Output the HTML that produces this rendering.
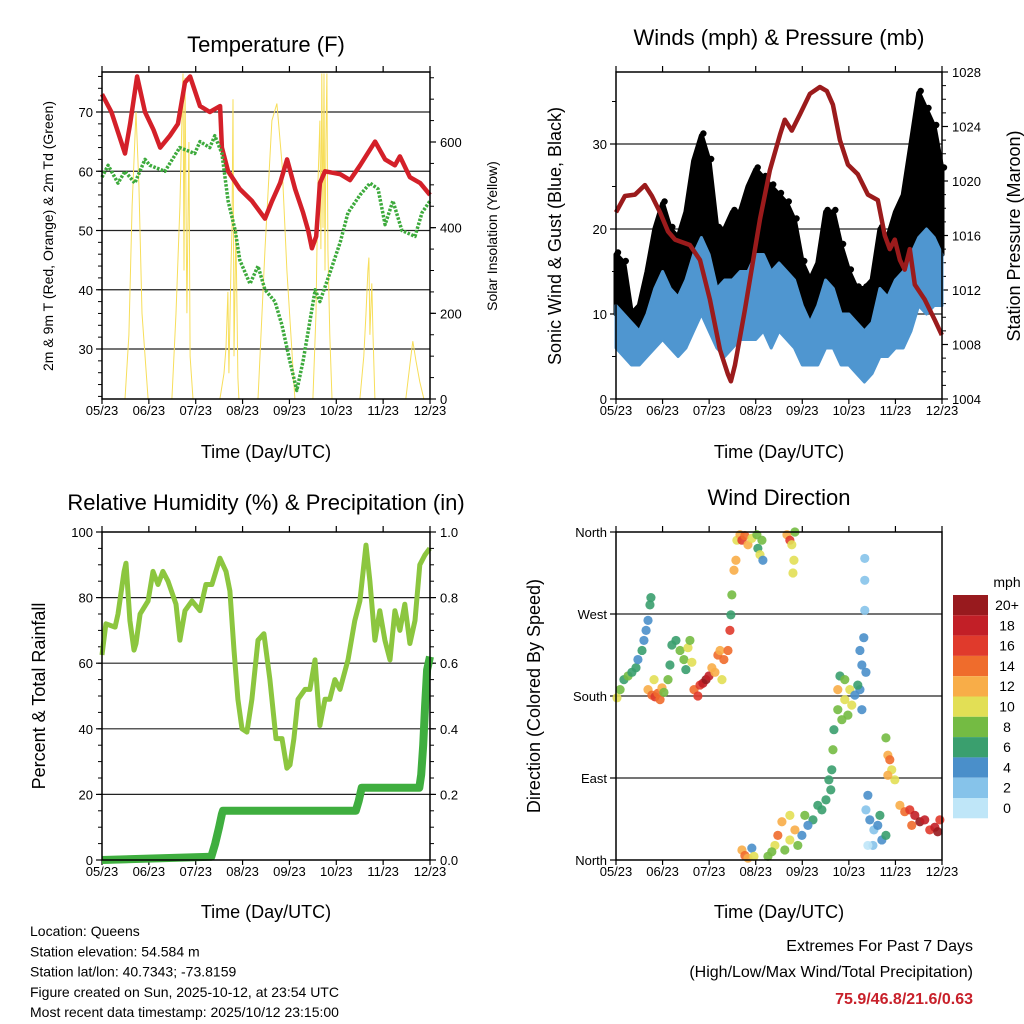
<!DOCTYPE html>
<html><head><meta charset="utf-8"><style>
body{margin:0;background:#fff}
svg{display:block;font-family:"Liberation Sans",Arial,sans-serif}
</style></head><body>
<svg id="chart" width="1024" height="1024" viewBox="0 0 1024 1024" xmlns="http://www.w3.org/2000/svg"></svg>
<script>
// ---------- DATA (time in hours over 7 days) ----------
const monthLabels = ["05/23","06/23","07/23","08/23","09/23","10/23","11/23","12/23"];
// Temperature panel
const tempHours = [0,4.8,11.8,14.4,18,22,26.4,29.8,34.8,38.9,42.5,45.1,50.2,55.2,60.5,61.4,64.6,70.6,76.8,83.5,87.1,91.2,94.8,98.9,103,105.6,107.5,109.7,111.6,114.2,122,127,132.2,139.9,145,150,152.6,157.7,163,168];
const tempValues = [73,70,63,68,76,70,67,64,66,68,75,76,71,70,71,64,60,57,55,52,55,58,62,57,53,50,47,49,58,60,59.5,58.5,61,65,62,61,62.5,59,58,56];
const dewHours = [0,3.1,8.2,11.8,16.8,22,24.5,32.2,39.8,47.5,50.2,55.2,57.8,61.4,64.6,68.2,70.6,75.8,79.9,83.5,88.6,92.2,96.2,99.8,103,105.6,109.2,111.6,116.9,122,126,132.2,137.3,141.4,145,149,153.6,160.3,163.9,168];
const dewValues = [59,61,58,60,58,62,61,60,64,63,65,64,66,63,55,50,45,41,44,40,38,34,28,23,28,33,40,38,43,48,53,56,58,57,51,55,50,49,53,55];
const solarHours = [0,11.8,13.8,15.4,17.4,18.9,20.5,23.6,35.8,37.9,39.9,41.5,42,42.5,43.5,44.5,45.1,46.6,60.4,62.5,63.5,64.5,65,66,66.6,67.1,67.6,68.6,69.6,70.1,79.9,83.5,87,89.6,92.2,94.7,98.8,108,109.6,110.6,111.6,112.1,112.6,113.2,113.7,114.2,114.7,115.2,115.7,116.7,117.8,132.1,134.1,135.2,136.2,136.7,137.2,138.2,138.8,139.8,155.6,157.7,159.2,160.8,162.8,164.9,168];
const solarValues = [0,0,150,450,670,500,200,0,0,200,450,760,300,750,200,600,100,0,0,60,120,250,60,300,400,700,100,400,50,0,0,350,650,690,550,300,0,0,200,500,650,350,760,400,760,300,600,760,350,150,0,0,100,200,300,330,150,270,150,0,0,80,135,90,40,0,0];
// Winds panel (4-hour bins)
const windBinHours = [0,4,8,12,16,20,24,28,32,36,40,44,48,52,56,60,64,68,72,76,80,84,88,92,96,100,104,108,112,116,120,124,128,132,136,140,144,148,152,156,160,164,168];
const gustLow =  [10,9,7,7,8,10,12,11,10,12,15,17,15,10,10,11,13,12,13,15,12,14,12,12,8,7,8,12,11,8,8,6,4,6,9,8,10,10,15,20,18,18,17];
const gustHigh = [17,16,10,11,15,20,23,20,19,22,28,31,28,20,20,22,22,25,27,26,25,24,23,21,16,14,16,22,22,18,15,13,13,14,20,19,22,24,30,36,34,32,27];
const windLow =  [6,5,4,4,5,6,7,6,5,6,8,10,8,6,5,6,7,7,7,8,6,8,7,6,4,4,4,6,6,4,4,3,2,3,5,5,6,6,8,11,10,11,11];
const windHigh = [11,10,9,8,10,13,15,13,12,14,17,19,17,13,14,14,15,15,17,17,15,16,15,14,11,9,11,14,13,10,10,9,8,9,13,12,14,15,17,19,20,19,17];
const pressHours = [0,4.6,9.8,14.9,18.5,22.7,26.8,30.4,38.1,43.3,48.4,53.6,57.7,59.2,61.3,66.4,74.2,79.3,84.5,87,90.6,94.8,99.9,105.1,108.7,111.8,115.4,119.5,124.6,129.8,134.9,138.5,141.1,143.7,146.3,148.8,151.4,154,159.1,164.3,167.9];
const pressValues = [1017.7,1018.9,1019,1019.7,1018.9,1017.7,1016.3,1015.7,1015.3,1014.2,1011.3,1007.6,1005.8,1005.3,1006.5,1010.5,1017.2,1020.8,1023.4,1024.5,1023.7,1024.9,1026.4,1026.9,1026.6,1025.6,1023,1021.2,1020.5,1019,1018.6,1016,1015,1015.7,1014.2,1013.5,1015,1012.4,1011.3,1009.8,1008.7];
// RH / precip panel
const rhHours = [0,2,6.7,8.2,11.3,12.3,14.3,16.4,17.4,19.5,23.6,26.1,28.7,31.2,33.8,37.9,39.9,42.5,46.1,50.2,53.2,56.3,60.4,63.5,65.5,67.6,69.6,71.7,74.2,76.8,79.9,82.9,86,89.1,92.2,94.7,96.3,98.3,100.4,104,106.5,109.1,111.6,114.2,116.7,119.3,121.9,126,129.5,132.1,135.2,137.2,139.8,142.3,144.9,147.5,150,152.6,155.1,157.7,160.3,162.8,165.4,167.9];
const rhValues = [62.5,72,71,75,88,90.5,73,64,66,75,79,88,84,88,85,78,67,76,79,76,84,84,92,88,82,64,49,40,39,49,67,69,55,37,37,28,29,37,49,52,52,61,41,49,49,55,52,61,73,79,96,85,67,76,67,61,76,70,78,66,73,90,93,95];
const precipHours = [0,56,58,60,61.4,62,130,131.5,133,162.5,163.5,164.5,165.5,166.5,168];
const precipValues = [0,0.01,0.05,0.1,0.14,0.15,0.15,0.18,0.22,0.22,0.26,0.35,0.47,0.58,0.62];
// Wind direction panel
const dirHours = [0.5,2.1,4.1,6.2,8.2,10.3,11.3,13.4,14.4,15.5,16.5,17.5,18,16.5,18.5,20.1,21.6,23.7,19.6,22.7,24.7,26.8,27.8,28.8,30.9,33,35,37.1,38.1,39.1,36,40.2,42.2,43.3,44.8,46.4,47.9,49.4,51,52.5,53.6,54.6,55.6,57.7,58.7,59.2,59.7,60.8,61.8,62.3,63.9,64.9,66.4,68,70,72.6,73.1,74.2,75.2,75.7,88.1,89.6,90.6,92.2,91.7,91.2,128.2,128.2,128.2,127.7,125.7,126.7,128.8,125.7,126.7,124.6,115.4,117.9,120.5,114.3,117.9,121.5,114.3,119.5,123.1,116.4,112.3,111.8,111.2,110.7,109.7,108.2,106.1,104,101.5,98.9,97.3,95.8,93.7,92.2,89.6,87,85.5,83.4,81.9,80.3,78.3,89.6,64.9,66.4,68,70,71.1,129.8,128.8,130.8,132.9,134.9,136,137,139.1,132.4,129.8,139.1,140.1,141.1,142.1,143.7,140.1,146.3,148.8,151.4,154,156.6,159.1,161.7,164.3,166.9,165.8,152.4];
const dirDegrees = [178,187,198,202,206,211,220,230,241,252,263,280,288,187,181,179,183,189,198,176,184,198,214,236,241,230,220,233,241,217,209,187,180,192,194,198,202,211,206,225,230,198,220,230,252,269,291,318,329,351,357,351,356,346,353,357,342,335,351,329,357,351,346,360,329,315,331,307,274,244,230,214,206,187,165,192,202,198,187,187,176,170,165,159,181,154,143,121,99,77,88,66,55,60,44,38,49,27,16,33,22,11,42,27,16,9,4,49,11,5,2,13,4,71,55,44,33,38,49,22,27,16,16,134,115,110,99,88,93,60,53,55,49,42,44,33,36,44,31,38];
const dirSpeeds = [10,8,6,8,6,6,4,6,4,4,4,6,6,12,14,16,14,12,10,14,8,8,6,6,6,8,8,10,8,10,6,14,16,16,18,20,18,12,12,14,12,10,14,14,16,6,8,12,12,10,12,16,14,12,10,8,6,10,8,4,12,16,10,8,10,10,2,2,2,4,4,4,4,4,4,6,6,8,10,12,10,10,8,8,4,8,6,8,6,6,6,6,6,6,6,4,8,4,8,12,10,8,12,14,10,8,8,10,12,14,12,4,10,4,2,4,2,4,6,4,6,2,0,8,12,14,10,10,12,12,14,16,18,20,18,16,18,16,20,14];
const speedLevels = [0,2,4,6,8,10,12,14,16,18,20];
const speedLabels = ["0","2","4","6","8","10","12","14","16","18","20+"];
const speedColors = ["#bfe6f8","#86c3ea","#4a8fca","#3a9f6e","#74bb43","#e2df55","#f8ad48","#ef6c2c","#e03a2c","#c21f27","#981a1e"];

// ---------- HELPERS ----------
const NS="http://www.w3.org/2000/svg";
const svg=document.getElementById('chart');
function mk(tag,attrs,parent){const e=document.createElementNS(NS,tag);for(const k in attrs)e.setAttribute(k,attrs[k]);(parent||svg).appendChild(e);return e;}
function txt(s,x,y,size,anchor,rot,parent,extra){const a={x:x,y:y,'font-size':size,'text-anchor':anchor||'middle',fill:'#000'};if(rot)a.transform='rotate(-90 '+x+' '+y+')';if(extra)for(const k in extra)a[k]=extra[k];const t=mk('text',a,parent);t.textContent=s;return t;}
function lin(d0,d1,r0,r1){return v=>r0+(v-d0)/(d1-d0)*(r1-r0);}
function path(xs,ys,fx,fy){let d='';for(let i=0;i<xs.length;i++)d+=(i?'L':'M')+fx(xs[i]).toFixed(1)+' '+fy(ys[i]).toFixed(1);return d;}
function band(xs,lo,hi,fx,fy){let d='';for(let i=0;i<xs.length;i++)d+=(i?'L':'M')+fx(xs[i]).toFixed(1)+' '+fy(hi[i]).toFixed(1);for(let i=xs.length-1;i>=0;i--)d+='L'+fx(xs[i]).toFixed(1)+' '+fy(lo[i]).toFixed(1);return d+'Z';}

function panel(name,L,R,T,B,leftTicks,leftFy,leftMinor,grid,rightTicks,rightFy,rightMinor,leftFmt,rightFmt){
  const g=mk('g',{});
  
  
  grid.forEach(v=>{const l=mk('line',{x1:L,x2:R,y1:leftFy(v),y2:leftFy(v),stroke:'#222','stroke-width':1.2},g);
    
    });
  const fx=lin(0,168,L,R);
  for(let i=0;i<8;i++){const x=fx(i*24);
    mk('line',{x1:x,x2:x,y1:B,y2:B+5,stroke:'#000','stroke-width':1.2},g);
    mk('line',{x1:x,x2:x,y1:T,y2:T-6,stroke:'#000','stroke-width':1.2},g);
    const t=txt(monthLabels[i],x,B+16,13,'middle',0,g);
    
    }
  leftMinor.forEach(v=>mk('line',{x1:L-4,x2:L,y1:leftFy(v),y2:leftFy(v),stroke:'#000','stroke-width':1},g));
  leftTicks.forEach((v,i)=>{mk('line',{x1:L-6,x2:L,y1:leftFy(v),y2:leftFy(v),stroke:'#000','stroke-width':1.2},g);
    const t=txt(leftFmt?leftFmt[i]:String(v),L-9,leftFy(v)+5,13,'end',0,g);
    
    });
  if(rightTicks){
    rightMinor.forEach(v=>mk('line',{x1:R,x2:R+4,y1:rightFy(v),y2:rightFy(v),stroke:'#000','stroke-width':1},g));
    rightTicks.forEach((v,i)=>{mk('line',{x1:R,x2:R+6,y1:rightFy(v),y2:rightFy(v),stroke:'#000','stroke-width':1.2},g);
      const t=txt(rightFmt?rightFmt[i]:String(v),R+10,rightFy(v)+5,13,'start',0,g);
      
      });
  }
  return {g:g,fx:fx};
}
function frame(L,R,T,B){const r=mk('rect',{x:L,y:T,width:R-L,height:B-T,fill:'none',stroke:'#000','stroke-width':1.5});
  
  }

// ---------- PANEL 1: TEMPERATURE ----------
{
const L=102,R=430,T=72,B=399;
const fy=lin(30,70,349,112), fs=lin(0,600,399,142);
const minorL=[];for(let v=22;v<=76;v+=2)minorL.push(v);
const minorR=[];for(let v=0;v<=750;v+=50)minorR.push(v);
const p=panel('temperature-panel',L,R,T,B,[30,40,50,60,70],fy,minorL,[30,40,50,60,70],[0,200,400,600],fs,minorR);
const s=mk('path',{d:path(solarHours,solarValues,p.fx,fs),fill:'none',stroke:'#f7de5a','stroke-width':1},p.g);


const r=mk('path',{d:path(tempHours,tempValues,p.fx,fy),fill:'none',stroke:'#d42029','stroke-width':4.5,'stroke-linejoin':'round'},p.g);


const d=mk('path',{d:path(dewHours,dewValues,p.fx,fy),fill:'none',stroke:'#3daa3c','stroke-width':3.5,'stroke-dasharray':'2.5 1.5','stroke-linejoin':'round'},p.g);


frame(L,R,T,B);
const t1=txt('Temperature (F)',266,52,22);


const t2=txt('2m & 9m T (Red, Orange) & 2m Td (Green)',53,236,14,'middle',true);


const t3=txt('Solar Insolation (Yellow)',497,236,14,'middle',true);


const t4=txt('Time (Day/UTC)',266,458,18);


}

// ---------- PANEL 2: WINDS ----------
{
const L=616,R=942,T=72,B=399;
const fy=lin(0,30,399,144), fp=lin(1004,1028,399,72);
const minorL=[];for(let v=0;v<=38;v+=5)minorL.push(v);
const minorR=[];for(let v=1004;v<=1028;v+=1)minorR.push(v);
const p=panel('winds-panel',L,R,T,B,[0,10,20,30],fy,minorL,[10,20,30],[1004,1008,1012,1016,1020,1024,1028],fp,minorR);
const g=mk('path',{d:band(windBinHours,gustLow,gustHigh,p.fx,fy),fill:'#000',stroke:'#000','stroke-width':5,'stroke-linejoin':'round'},p.g);


for(let i=0;i<windBinHours.length;i++){
  const c=mk('circle',{cx:p.fx(windBinHours[i])+2,cy:fy(gustHigh[i])-2,r:3.2,fill:'#000'},p.g);
  
  
}
const w=mk('path',{d:band(windBinHours,windLow,windHigh,p.fx,fy),fill:'#4f96d0',stroke:'#4f96d0','stroke-width':3,'stroke-linejoin':'round'},p.g);


const pr=mk('path',{d:path(pressHours,pressValues,p.fx,fp),fill:'none',stroke:'#9b1b1c','stroke-width':4.5,'stroke-linejoin':'round'},p.g);


frame(L,R,T,B);
const t1=txt('Winds (mph) & Pressure (mb)',779,45,22);


const t2=txt('Sonic Wind & Gust (Blue, Black)',561,236,18,'middle',true);


const t3=txt('Station Pressure (Maroon)',1020,236,18,'middle',true);


const t4=txt('Time (Day/UTC)',779,458,18);


}

// ---------- PANEL 3: RH & PRECIP ----------
{
const L=102,R=430,T=532,B=860;
const fy=lin(0,100,860,532), fr=lin(0,1,860,532);
const minorL=[];for(let v=0;v<=100;v+=5)minorL.push(v);
const minorR=[];for(let v=0;v<=1.001;v+=0.05)minorR.push(v);
const p=panel('humidity-panel',L,R,T,B,[0,20,40,60,80,100],fy,minorL,[20,40,60,80],[0,0.2,0.4,0.6,0.8,1.0],fr,minorR,null,["0.0","0.2","0.4","0.6","0.8","1.0"]);
const h=mk('path',{d:path(rhHours,rhValues,p.fx,fy),fill:'none',stroke:'#8cc63f','stroke-width':5,'stroke-linejoin':'round'},p.g);


const pc=mk('path',{d:path(precipHours,precipValues,p.fx,fr),fill:'none',stroke:'#3fae3f','stroke-width':8,'stroke-linejoin':'round'},p.g);


frame(L,R,T,B);
const t1=txt('Relative Humidity (%) & Precipitation (in)',266,510,22);


const t2=txt('Percent & Total Rainfall',45,696,18,'middle',true);


const t4=txt('Time (Day/UTC)',266,918,18);


}

// ---------- PANEL 4: WIND DIRECTION ----------
{
const L=616,R=942,T=532,B=860;
const fy=lin(0,360,860,532);
const p=panel('wind-direction-panel',L,R,T,B,[0,90,180,270,360],fy,[],[90,180,270],null,null,null,["North","East","South","West","North"]);
function colorFor(s){let c=0;for(let i=0;i<speedLevels.length;i++)if(s>=speedLevels[i]-1)c=i;return speedColors[c];}
for(let i=0;i<dirHours.length;i++){
  const c=mk('circle',{cx:p.fx(dirHours[i]),cy:fy(dirDegrees[i]),r:4.6,fill:colorFor(dirSpeeds[i]),'fill-opacity':0.9},p.g);
  
  
}
frame(L,R,T,B);
const t1=txt('Wind Direction',779,505,22);


const t2=txt('Direction (Colored By Speed)',540,696,18,'middle',true);


const t4=txt('Time (Day/UTC)',779,918,18);


const cb=mk('g',{});


const top=595,h=20.3;
for(let i=0;i<speedColors.length;i++){
  const k=speedColors.length-1-i;
  const r=mk('rect',{x:953,y:top+i*h,width:35,height:h,fill:speedColors[k]},cb);
  
  
  const t=txt(speedLabels[k],1007,top+i*h+15,14,'middle',0,cb);
  
  
}
const mu=txt('mph',1007,587,14,'middle',0,cb);


}

// ---------- FOOTER ----------
const info=["Location: Queens","Station elevation: 54.584 m","Station lat/lon: 40.7343; -73.8159","Figure created on Sun, 2025-10-12, at 23:54 UTC","Most recent data timestamp: 2025/10/12 23:15:00"];
info.forEach((s,i)=>{const t=txt(s,30,936+i*20.3,14,'start');
  
  });
const e1=txt('Extremes For Past 7 Days',973,951,16,'end');


const e2=txt('(High/Low/Max Wind/Total Precipitation)',973,977,16,'end');


const e3=txt('75.9/46.8/21.6/0.63',973,1004,16,'end',0,null,{fill:'#c8202a','font-weight':'bold'});


</script>
</body></html>
